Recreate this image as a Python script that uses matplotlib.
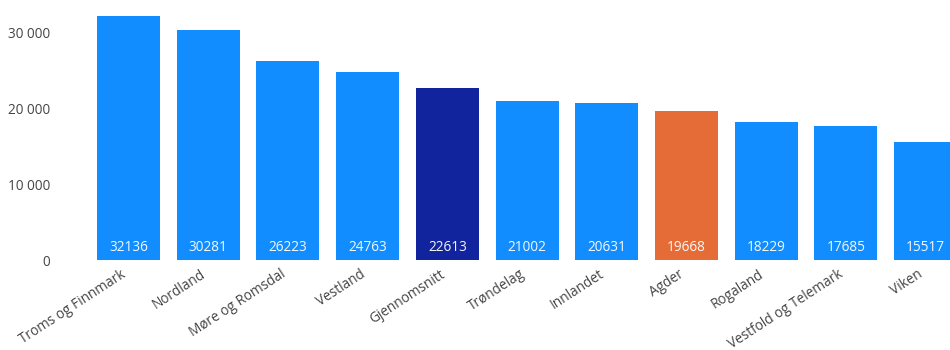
import matplotlib.pyplot as plt
import matplotlib.transforms as mtransforms
from matplotlib.ticker import FuncFormatter

regions = ["Troms og Finnmark", "Nordland", "Møre og Romsdal", "Vestland", "Gjennomsnitt",
           "Trøndelag", "Innlandet", "Agder", "Rogaland", "Vestfold og Telemark", "Viken"]
values = [32136, 30281, 26223, 24763, 22613, 21002, 20631, 19668, 18229, 17685, 15517]

BLUE = "#118DFF"
NAVY = "#12239E"
ORANGE = "#E66C37"
TEXT = "#444444"

colors = []
for r in regions:
    if r == "Gjennomsnitt":
        colors.append(NAVY)
    elif r == "Agder":
        colors.append(ORANGE)
    else:
        colors.append(BLUE)

plt.rcParams["font.family"] = ["Open Sans", "DejaVu Sans"]

fig = plt.figure(figsize=(9.5, 3.5), dpi=100)
ax = fig.add_axes([80.7 / 950, 90 / 350, (957.4 - 80.7) / 950, (260 - 16) / 350])

x = range(len(values))
bars = ax.bar(x, values, width=0.79, color=colors)

for xi, v in zip(x, values):
    ax.annotate(str(v), (xi, 0), xytext=(0, 3.5), textcoords="offset points",
                ha="center", va="bottom", color="white", fontsize=9.8, alpha=0.95)

ax.set_xlim(-0.6, 10.4)
ax.set_ylim(0, 32136)
ax.set_yticks([0, 10000, 20000, 30000])
ax.yaxis.set_major_formatter(FuncFormatter(lambda v, p: f"{int(v):,}".replace(",", " ")))
ax.set_xticks(list(x))
ax.set_xticklabels(regions, rotation=33, ha="right", rotation_mode="anchor")

ax.tick_params(axis="both", length=0, colors=TEXT, labelsize=9.8)
ax.tick_params(axis="y", pad=22)
ax.tick_params(axis="x", pad=5)

# nudge the rotated labels a bit to the left, like the original
shift = mtransforms.ScaledTranslation(-8 / 100, 0, fig.dpi_scale_trans)
for lbl in ax.get_xticklabels():
    lbl.set_transform(lbl.get_transform() + shift)

for s in ax.spines.values():
    s.set_visible(False)

fig.savefig("out.png", dpi=100)
